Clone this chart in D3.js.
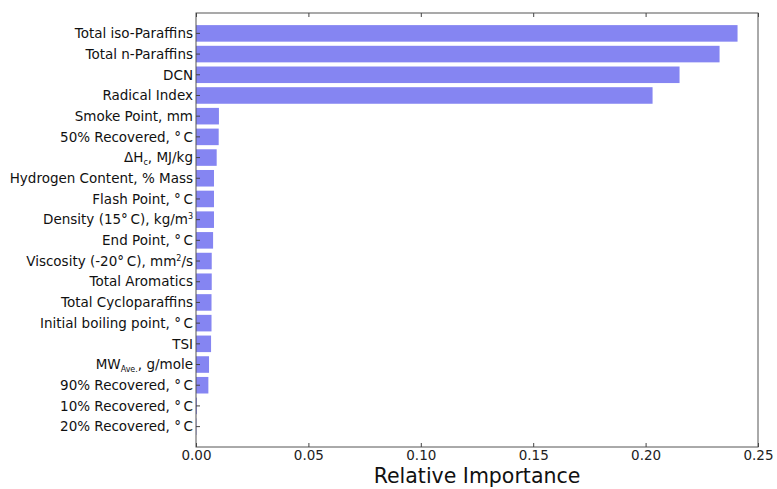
<!DOCTYPE html>
<html><head><meta charset="utf-8">
<script src="https://cdn.jsdelivr.net/npm/d3@7"></script>
<style>body{margin:0;background:#fff;} text{font-family:"DejaVu Sans",sans-serif;}</style>
</head><body>
<svg id="chart" width="777" height="489"></svg>
<script>
const categories = [
  "Total iso-Paraffins","Total n-Paraffins","DCN","Radical Index","Smoke Point, mm",
  "50% Recovered, °\u2009C","ΔH_{c}, MJ/kg","Hydrogen Content, % Mass","Flash Point, °\u2009C",
  "Density (15°\u2009C), kg/m^{3}","End Point, °\u2009C","Viscosity (-20°\u2009C), mm^{2}/s","Total Aromatics",
  "Total Cycloparaffins","Initial boiling point, °\u2009C","TSI","MW_{Ave.}, g/mole",
  "90% Recovered, °\u2009C","10% Recovered, °\u2009C","20% Recovered, °\u2009C"
];
const values = [0.2409,0.2329,0.2151,0.2031,0.0102,0.0101,0.0092,0.0080,0.0080,0.0080,
  0.0076,0.0070,0.0070,0.0069,0.0069,0.0067,0.0058,0.0055,0.0004,0.0002];
const xTicks = [0,0.05,0.10,0.15,0.20,0.25];
const xLabel = "Relative Importance";

const svg = d3.select("#chart");
const L = 196, R = 758, T = 13, B = 447;
const x = d3.scaleLinear().domain([0,0.25]).range([L,R]);
const y = d3.scaleBand().domain(categories).range([T,B]).paddingInner(0.2).paddingOuter(0.585);

svg.append("g").selectAll("rect").data(categories).join("rect")
  .attr("x", x(0)).attr("y", d=>y(d))
  .attr("width", (d,i)=>x(values[i])-x(0)).attr("height", y.bandwidth())
  .attr("fill","#8585f2");

// frame
svg.append("rect").attr("x",L).attr("y",T).attr("width",R-L).attr("height",B-T)
  .attr("fill","none").attr("stroke","#555").attr("stroke-width",1);

// x axis bottom
const xa = svg.append("g").attr("transform",`translate(0,${B})`)
  .call(d3.axisBottom(x).tickValues(xTicks).tickFormat(d3.format(".2f")).tickSizeInner(-4).tickSizeOuter(0).tickPadding(3));
xa.select(".domain").remove();
xa.selectAll("line").attr("stroke","#444");
xa.selectAll("text").attr("font-size",13.5).attr("fill","#222");
const xt = svg.append("g").attr("transform",`translate(0,${T})`)
  .call(d3.axisTop(x).tickValues(xTicks).tickFormat("").tickSizeInner(-4).tickSizeOuter(0));
xt.select(".domain").remove();
xt.selectAll("line").attr("stroke","#444");

// y labels
const lab = svg.append("g").selectAll("text").data(categories).join("text")
  .attr("x", L-3).attr("y", d=>y(d)+y.bandwidth()/2).attr("dy","0.35em")
  .attr("text-anchor","end").attr("font-size",13.5).attr("fill","#111");
lab.each(function(d){
  const t = d3.select(this);
  const parts = d.split(/(_\{[^}]*\}|\^\{[^}]*\})/).filter(s=>s.length);
  let shift = 0;
  parts.forEach(p=>{
    if (p.startsWith("_{")) {
      t.append("tspan").attr("font-size",8).attr("dy",3).text(p.slice(2,-1));
      shift = -3;
    } else if (p.startsWith("^{")) {
      t.append("tspan").attr("font-size",8).attr("dy",-5).text(p.slice(2,-1));
      shift = 5;
    } else {
      const ts = t.append("tspan").text(p);
      if (shift) { ts.attr("dy", shift); shift = 0; }
    }
  });
});
// small y ticks
svg.append("g").selectAll("line").data(categories).join("line")
  .attr("x1",L).attr("x2",L+4).attr("y1",d=>y(d)+y.bandwidth()/2).attr("y2",d=>y(d)+y.bandwidth()/2)
  .attr("stroke","#444");

svg.append("text").attr("x",(L+R)/2).attr("y",483).attr("text-anchor","middle")
  .attr("font-size",20.5).attr("fill","#111").text(xLabel);
</script>
</body></html>
